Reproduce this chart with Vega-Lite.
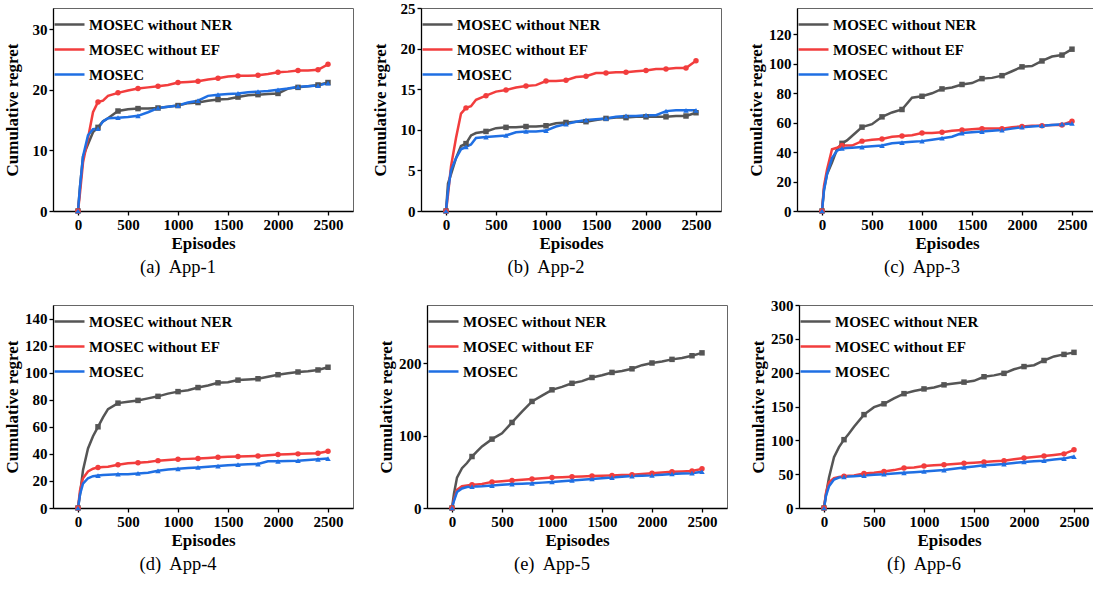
{
"$schema": "https://vega.github.io/schema/vega-lite/v6.json",
"padding": {"left": 2, "top": 0, "right": 0, "bottom": 0},
"background": "white",
"data": {"values": [
{"p":"a","x":0,"NER":0,"EF":0,"MOSEC":0},{"p":"a","x":20,"NER":4,"EF":3,"MOSEC":4},{"p":"a","x":50,"NER":9,"EF":8,"MOSEC":9},{"p":"a","x":100,"NER":11,"EF":12,"MOSEC":12.5},{"p":"a","x":150,"NER":13,"EF":16.3,"MOSEC":13.5},{"p":"a","x":200,"NER":13.8,"EF":18,"MOSEC":13.6},{"p":"a","x":250,"NER":14.8,"EF":18.2,"MOSEC":14.8},{"p":"a","x":300,"NER":15.3,"EF":19,"MOSEC":15.3},{"p":"a","x":400,"NER":16.5,"EF":19.5,"MOSEC":15.4},{"p":"a","x":500,"NER":16.8,"EF":19.9,"MOSEC":15.5},{"p":"a","x":600,"NER":16.9,"EF":20.2,"MOSEC":15.7},{"p":"a","x":700,"NER":16.9,"EF":20.4,"MOSEC":16.3},{"p":"a","x":800,"NER":17.0,"EF":20.6,"MOSEC":17.0},{"p":"a","x":900,"NER":17.2,"EF":20.8,"MOSEC":17.2},{"p":"a","x":1000,"NER":17.4,"EF":21.2,"MOSEC":17.4},{"p":"a","x":1100,"NER":17.8,"EF":21.3,"MOSEC":17.9},{"p":"a","x":1200,"NER":17.9,"EF":21.4,"MOSEC":18.2},{"p":"a","x":1300,"NER":18.2,"EF":21.7,"MOSEC":19.0},{"p":"a","x":1400,"NER":18.4,"EF":21.9,"MOSEC":19.2},{"p":"a","x":1500,"NER":18.5,"EF":22.2,"MOSEC":19.3},{"p":"a","x":1600,"NER":18.8,"EF":22.3,"MOSEC":19.4},{"p":"a","x":1700,"NER":19.1,"EF":22.3,"MOSEC":19.6},{"p":"a","x":1800,"NER":19.2,"EF":22.4,"MOSEC":19.7},{"p":"a","x":1900,"NER":19.3,"EF":22.6,"MOSEC":19.8},{"p":"a","x":2000,"NER":19.4,"EF":22.9,"MOSEC":20.0},{"p":"a","x":2100,"NER":20.2,"EF":23.0,"MOSEC":20.2},{"p":"a","x":2200,"NER":20.4,"EF":23.2,"MOSEC":20.5},{"p":"a","x":2300,"NER":20.6,"EF":23.2,"MOSEC":20.6},{"p":"a","x":2400,"NER":20.8,"EF":23.3,"MOSEC":20.7},{"p":"a","x":2500,"NER":21.2,"EF":24.2,"MOSEC":21.1},
{"p":"b","x":0,"NER":0,"EF":0,"MOSEC":0},{"p":"b","x":20,"NER":3.4,"EF":2,"MOSEC":2.5},{"p":"b","x":50,"NER":4.5,"EF":5.5,"MOSEC":5},{"p":"b","x":100,"NER":6.5,"EF":9,"MOSEC":6.5},{"p":"b","x":150,"NER":8,"EF":12,"MOSEC":7.6},{"p":"b","x":200,"NER":8.3,"EF":12.7,"MOSEC":7.9},{"p":"b","x":250,"NER":9.3,"EF":12.9,"MOSEC":8.2},{"p":"b","x":300,"NER":9.6,"EF":13.7,"MOSEC":9.0},{"p":"b","x":400,"NER":9.8,"EF":14.2,"MOSEC":9.1},{"p":"b","x":500,"NER":10.2,"EF":14.7,"MOSEC":9.2},{"p":"b","x":600,"NER":10.3,"EF":14.9,"MOSEC":9.3},{"p":"b","x":700,"NER":10.3,"EF":15.2,"MOSEC":9.7},{"p":"b","x":800,"NER":10.4,"EF":15.4,"MOSEC":9.8},{"p":"b","x":900,"NER":10.4,"EF":15.5,"MOSEC":9.8},{"p":"b","x":1000,"NER":10.5,"EF":16.0,"MOSEC":9.9},{"p":"b","x":1100,"NER":10.8,"EF":16.0,"MOSEC":10.4},{"p":"b","x":1200,"NER":10.9,"EF":16.1,"MOSEC":10.7},{"p":"b","x":1300,"NER":11.0,"EF":16.5,"MOSEC":11.0},{"p":"b","x":1400,"NER":11.0,"EF":16.6,"MOSEC":11.2},{"p":"b","x":1500,"NER":11.2,"EF":17.0,"MOSEC":11.3},{"p":"b","x":1600,"NER":11.4,"EF":17.0,"MOSEC":11.4},{"p":"b","x":1700,"NER":11.5,"EF":17.1,"MOSEC":11.6},{"p":"b","x":1800,"NER":11.5,"EF":17.1,"MOSEC":11.7},{"p":"b","x":1900,"NER":11.6,"EF":17.2,"MOSEC":11.7},{"p":"b","x":2000,"NER":11.6,"EF":17.3,"MOSEC":11.8},{"p":"b","x":2100,"NER":11.6,"EF":17.5,"MOSEC":11.8},{"p":"b","x":2200,"NER":11.6,"EF":17.5,"MOSEC":12.3},{"p":"b","x":2300,"NER":11.7,"EF":17.6,"MOSEC":12.4},{"p":"b","x":2400,"NER":11.7,"EF":17.6,"MOSEC":12.4},{"p":"b","x":2500,"NER":12.1,"EF":18.5,"MOSEC":12.4},
{"p":"c","x":0,"NER":0,"EF":0,"MOSEC":0},{"p":"c","x":20,"NER":15,"EF":17,"MOSEC":14},{"p":"c","x":50,"NER":25,"EF":28,"MOSEC":25},{"p":"c","x":100,"NER":33,"EF":42,"MOSEC":36},{"p":"c","x":150,"NER":42,"EF":43,"MOSEC":41},{"p":"c","x":200,"NER":46,"EF":44.5,"MOSEC":42.5},{"p":"c","x":250,"NER":48,"EF":44.5,"MOSEC":42.8},{"p":"c","x":300,"NER":51,"EF":44.5,"MOSEC":43},{"p":"c","x":400,"NER":57,"EF":47.5,"MOSEC":43.5},{"p":"c","x":500,"NER":59,"EF":48.5,"MOSEC":44},{"p":"c","x":600,"NER":64,"EF":49,"MOSEC":44.5},{"p":"c","x":700,"NER":67,"EF":50.5,"MOSEC":46},{"p":"c","x":800,"NER":69,"EF":51,"MOSEC":46.5},{"p":"c","x":900,"NER":77,"EF":51.5,"MOSEC":47},{"p":"c","x":1000,"NER":78,"EF":53,"MOSEC":47.5},{"p":"c","x":1100,"NER":80,"EF":53,"MOSEC":48.5},{"p":"c","x":1200,"NER":83,"EF":53.5,"MOSEC":49.5},{"p":"c","x":1300,"NER":84,"EF":54.5,"MOSEC":50.5},{"p":"c","x":1400,"NER":86,"EF":55,"MOSEC":53},{"p":"c","x":1500,"NER":87,"EF":55.5,"MOSEC":53.5},{"p":"c","x":1600,"NER":90,"EF":56,"MOSEC":54},{"p":"c","x":1700,"NER":90.5,"EF":56,"MOSEC":54.5},{"p":"c","x":1800,"NER":92,"EF":56,"MOSEC":55},{"p":"c","x":1900,"NER":95,"EF":57,"MOSEC":56},{"p":"c","x":2000,"NER":98,"EF":57.5,"MOSEC":57},{"p":"c","x":2100,"NER":98.5,"EF":58,"MOSEC":57.5},{"p":"c","x":2200,"NER":102,"EF":58,"MOSEC":58},{"p":"c","x":2300,"NER":105,"EF":58.5,"MOSEC":58.5},{"p":"c","x":2400,"NER":106,"EF":58.5,"MOSEC":59},{"p":"c","x":2500,"NER":110,"EF":61,"MOSEC":59.5},
{"p":"d","x":0,"NER":0,"EF":0,"MOSEC":0},{"p":"d","x":20,"NER":10,"EF":13,"MOSEC":10},{"p":"d","x":50,"NER":28,"EF":22,"MOSEC":18},{"p":"d","x":100,"NER":44,"EF":27,"MOSEC":22},{"p":"d","x":150,"NER":53,"EF":29,"MOSEC":23.5},{"p":"d","x":200,"NER":60,"EF":30,"MOSEC":24},{"p":"d","x":250,"NER":67,"EF":30.3,"MOSEC":24.3},{"p":"d","x":300,"NER":73,"EF":30.5,"MOSEC":24.5},{"p":"d","x":400,"NER":77.5,"EF":32,"MOSEC":25},{"p":"d","x":500,"NER":78.5,"EF":33,"MOSEC":25},{"p":"d","x":600,"NER":79.5,"EF":33.5,"MOSEC":25.5},{"p":"d","x":700,"NER":81,"EF":34,"MOSEC":26},{"p":"d","x":800,"NER":82.5,"EF":35,"MOSEC":27.5},{"p":"d","x":900,"NER":84.5,"EF":35.5,"MOSEC":28.5},{"p":"d","x":1000,"NER":86,"EF":36,"MOSEC":29},{"p":"d","x":1100,"NER":87,"EF":36.3,"MOSEC":29.5},{"p":"d","x":1200,"NER":89,"EF":36.5,"MOSEC":30},{"p":"d","x":1300,"NER":90.5,"EF":37,"MOSEC":30.5},{"p":"d","x":1400,"NER":92.5,"EF":37.5,"MOSEC":31},{"p":"d","x":1500,"NER":93,"EF":37.8,"MOSEC":31.5},{"p":"d","x":1600,"NER":94.5,"EF":38,"MOSEC":32},{"p":"d","x":1700,"NER":95,"EF":38.2,"MOSEC":32.3},{"p":"d","x":1800,"NER":95.5,"EF":38.5,"MOSEC":32.5},{"p":"d","x":1900,"NER":97,"EF":39,"MOSEC":34.5},{"p":"d","x":2000,"NER":98.5,"EF":39.5,"MOSEC":34.5},{"p":"d","x":2100,"NER":99.5,"EF":39.8,"MOSEC":34.8},{"p":"d","x":2200,"NER":100.5,"EF":40,"MOSEC":35},{"p":"d","x":2300,"NER":101,"EF":40.2,"MOSEC":35.5},{"p":"d","x":2400,"NER":102,"EF":40.5,"MOSEC":36},{"p":"d","x":2500,"NER":104,"EF":42,"MOSEC":36.5},
{"p":"e","x":0,"NER":0,"EF":0,"MOSEC":0},{"p":"e","x":20,"NER":20,"EF":12,"MOSEC":10},{"p":"e","x":50,"NER":42,"EF":25,"MOSEC":22},{"p":"e","x":100,"NER":55,"EF":30,"MOSEC":27},{"p":"e","x":150,"NER":62,"EF":31,"MOSEC":29},{"p":"e","x":200,"NER":71,"EF":32,"MOSEC":29.5},{"p":"e","x":250,"NER":78,"EF":32.5,"MOSEC":29.8},{"p":"e","x":300,"NER":85,"EF":33,"MOSEC":30},{"p":"e","x":400,"NER":95,"EF":36,"MOSEC":31},{"p":"e","x":500,"NER":103,"EF":37,"MOSEC":32},{"p":"e","x":600,"NER":118,"EF":38,"MOSEC":33},{"p":"e","x":700,"NER":133,"EF":39,"MOSEC":33.5},{"p":"e","x":800,"NER":147,"EF":40,"MOSEC":34},{"p":"e","x":900,"NER":155,"EF":41,"MOSEC":35},{"p":"e","x":1000,"NER":163,"EF":42,"MOSEC":36},{"p":"e","x":1100,"NER":167,"EF":42.5,"MOSEC":37},{"p":"e","x":1200,"NER":172,"EF":43,"MOSEC":38},{"p":"e","x":1300,"NER":175,"EF":43.5,"MOSEC":39},{"p":"e","x":1400,"NER":180,"EF":44,"MOSEC":40},{"p":"e","x":1500,"NER":183,"EF":44.5,"MOSEC":41},{"p":"e","x":1600,"NER":187,"EF":45,"MOSEC":42},{"p":"e","x":1700,"NER":189,"EF":45.5,"MOSEC":43},{"p":"e","x":1800,"NER":192,"EF":46,"MOSEC":44},{"p":"e","x":1900,"NER":197,"EF":47,"MOSEC":44.5},{"p":"e","x":2000,"NER":200,"EF":48,"MOSEC":45},{"p":"e","x":2100,"NER":202,"EF":49,"MOSEC":46},{"p":"e","x":2200,"NER":205,"EF":50,"MOSEC":47},{"p":"e","x":2300,"NER":207,"EF":50.5,"MOSEC":47.5},{"p":"e","x":2400,"NER":210,"EF":51,"MOSEC":48},{"p":"e","x":2500,"NER":214,"EF":54,"MOSEC":50},
{"p":"f","x":0,"NER":0,"EF":0,"MOSEC":0},{"p":"f","x":20,"NER":20,"EF":22,"MOSEC":18},{"p":"f","x":50,"NER":45,"EF":38,"MOSEC":32},{"p":"f","x":100,"NER":75,"EF":44,"MOSEC":42},{"p":"f","x":150,"NER":90,"EF":46,"MOSEC":45},{"p":"f","x":200,"NER":101,"EF":47,"MOSEC":46},{"p":"f","x":250,"NER":110,"EF":47.5,"MOSEC":46.5},{"p":"f","x":300,"NER":120,"EF":48,"MOSEC":47},{"p":"f","x":400,"NER":138,"EF":51,"MOSEC":48},{"p":"f","x":500,"NER":149,"EF":52,"MOSEC":49},{"p":"f","x":600,"NER":154,"EF":54,"MOSEC":50},{"p":"f","x":700,"NER":162,"EF":56,"MOSEC":51},{"p":"f","x":800,"NER":169,"EF":59,"MOSEC":52},{"p":"f","x":900,"NER":173,"EF":60,"MOSEC":53},{"p":"f","x":1000,"NER":176,"EF":62,"MOSEC":54},{"p":"f","x":1100,"NER":178,"EF":63,"MOSEC":55},{"p":"f","x":1200,"NER":182,"EF":64,"MOSEC":56},{"p":"f","x":1300,"NER":184,"EF":65,"MOSEC":58},{"p":"f","x":1400,"NER":186,"EF":66,"MOSEC":60},{"p":"f","x":1500,"NER":188,"EF":67,"MOSEC":61.5},{"p":"f","x":1600,"NER":194,"EF":68,"MOSEC":63},{"p":"f","x":1700,"NER":196,"EF":69,"MOSEC":64},{"p":"f","x":1800,"NER":199,"EF":70,"MOSEC":65},{"p":"f","x":1900,"NER":205,"EF":72,"MOSEC":66.5},{"p":"f","x":2000,"NER":209,"EF":74,"MOSEC":68},{"p":"f","x":2100,"NER":211,"EF":75.5,"MOSEC":69},{"p":"f","x":2200,"NER":218,"EF":77,"MOSEC":70},{"p":"f","x":2300,"NER":224,"EF":78.5,"MOSEC":71.5},{"p":"f","x":2400,"NER":227,"EF":80,"MOSEC":73},{"p":"f","x":2500,"NER":230,"EF":86,"MOSEC":76}
]},
"vconcat": [
 {"spacing": 24, "resolve": {"scale": {"color": "independent"}, "legend": {"color": "independent"}}, "hconcat": [
  {"spacing": 16, "resolve": {"scale": {"color": "independent"}, "legend": {"color": "independent"}}, "hconcat": [
   {"width": 300, "height": 203, "title": "(a)\u00a0 App-1",
    "transform": [{"filter": "datum.p === 'a'"}, {"fold": ["NER", "EF", "MOSEC"], "as": ["s", "y"]}],
    "encoding": {
     "x": {"field": "x", "type": "quantitative", "scale": {"domain": [-250, 2750], "nice": false, "zero": false}, "axis": {"values": [0, 500, 1000, 1500, 2000, 2500], "format": "d", "title": "Episodes"}},
     "y": {"field": "y", "type": "quantitative", "scale": {"domain": [0, 33.5], "nice": false}, "axis": {"values": [0, 10, 20, 30], "format": "d", "title": "Cumulative regret"}},
     "color": {"field": "s", "type": "nominal", "scale": {"domain": ["NER", "EF", "MOSEC"], "range": ["#555555", "#f23d3d", "#1f6fe3"]},
      "legend": {"orient": "top-left", "title": null, "offset": 0, "padding": 0, "symbolType": "stroke", "symbolSize": 900, "symbolStrokeWidth": 2.5, "labelOffset": 3, "rowPadding": -15, "labelFontWeight": "bold", "labelFontSize": 15, "labelColor": "black",
       "labelExpr": "datum.value === 'NER' ? 'MOSEC without NER' : datum.value === 'EF' ? 'MOSEC without EF' : 'MOSEC'"}}
    },
    "layer": [
     {"mark": {"type": "line", "strokeWidth": 2.5}},
     {"transform": [{"filter": "datum.x % 200 === 0 || datum.x === 2500"}], "mark": {"type": "point", "filled": true, "size": 30, "opacity": 1},
      "encoding": {"shape": {"field": "s", "type": "nominal", "scale": {"domain": ["NER", "EF", "MOSEC"], "range": ["square", "circle", "triangle-up"]}, "legend": null}}}
    ]},
   {"width": 300, "height": 203, "title": "(b)\u00a0 App-2",
    "transform": [{"filter": "datum.p === 'b'"}, {"fold": ["NER", "EF", "MOSEC"], "as": ["s", "y"]}],
    "encoding": {
     "x": {"field": "x", "type": "quantitative", "scale": {"domain": [-250, 2750], "nice": false, "zero": false}, "axis": {"values": [0, 500, 1000, 1500, 2000, 2500], "format": "d", "title": "Episodes"}},
     "y": {"field": "y", "type": "quantitative", "scale": {"domain": [0, 25], "nice": false}, "axis": {"values": [0, 5, 10, 15, 20, 25], "format": "d", "title": "Cumulative regret"}},
     "color": {"field": "s", "type": "nominal", "scale": {"domain": ["NER", "EF", "MOSEC"], "range": ["#555555", "#f23d3d", "#1f6fe3"]},
      "legend": {"orient": "top-left", "title": null, "offset": 0, "padding": 0, "symbolType": "stroke", "symbolSize": 900, "symbolStrokeWidth": 2.5, "labelOffset": 3, "rowPadding": -15, "labelFontWeight": "bold", "labelFontSize": 15, "labelColor": "black",
       "labelExpr": "datum.value === 'NER' ? 'MOSEC without NER' : datum.value === 'EF' ? 'MOSEC without EF' : 'MOSEC'"}}
    },
    "layer": [
     {"mark": {"type": "line", "strokeWidth": 2.5}},
     {"transform": [{"filter": "datum.x % 200 === 0 || datum.x === 2500"}], "mark": {"type": "point", "filled": true, "size": 30, "opacity": 1},
      "encoding": {"shape": {"field": "s", "type": "nominal", "scale": {"domain": ["NER", "EF", "MOSEC"], "range": ["square", "circle", "triangle-up"]}, "legend": null}}}
    ]}
  ]},
  {"width": 300, "height": 203, "title": "(c)\u00a0 App-3",
    "transform": [{"filter": "datum.p === 'c'"}, {"fold": ["NER", "EF", "MOSEC"], "as": ["s", "y"]}],
    "encoding": {
     "x": {"field": "x", "type": "quantitative", "scale": {"domain": [-250, 2750], "nice": false, "zero": false}, "axis": {"values": [0, 500, 1000, 1500, 2000, 2500], "format": "d", "title": "Episodes"}},
     "y": {"field": "y", "type": "quantitative", "scale": {"domain": [0, 138], "nice": false}, "axis": {"values": [0, 20, 40, 60, 80, 100, 120], "format": "d", "title": "Cumulative regret"}},
     "color": {"field": "s", "type": "nominal", "scale": {"domain": ["NER", "EF", "MOSEC"], "range": ["#555555", "#f23d3d", "#1f6fe3"]},
      "legend": {"orient": "top-left", "title": null, "offset": 0, "padding": 0, "symbolType": "stroke", "symbolSize": 900, "symbolStrokeWidth": 2.5, "labelOffset": 3, "rowPadding": -15, "labelFontWeight": "bold", "labelFontSize": 15, "labelColor": "black",
       "labelExpr": "datum.value === 'NER' ? 'MOSEC without NER' : datum.value === 'EF' ? 'MOSEC without EF' : 'MOSEC'"}}
    },
    "layer": [
     {"mark": {"type": "line", "strokeWidth": 2.5}},
     {"transform": [{"filter": "datum.x % 200 === 0 || datum.x === 2500"}], "mark": {"type": "point", "filled": true, "size": 30, "opacity": 1},
      "encoding": {"shape": {"field": "s", "type": "nominal", "scale": {"domain": ["NER", "EF", "MOSEC"], "range": ["square", "circle", "triangle-up"]}, "legend": null}}}
    ]}
 ]},
 {"spacing": 20, "resolve": {"scale": {"color": "independent"}, "legend": {"color": "independent"}}, "hconcat": [
  {"spacing": 22, "resolve": {"scale": {"color": "independent"}, "legend": {"color": "independent"}}, "hconcat": [
   {"width": 300, "height": 203, "title": "(d)\u00a0 App-4",
    "transform": [{"filter": "datum.p === 'd'"}, {"fold": ["NER", "EF", "MOSEC"], "as": ["s", "y"]}],
    "encoding": {
     "x": {"field": "x", "type": "quantitative", "scale": {"domain": [-250, 2750], "nice": false, "zero": false}, "axis": {"values": [0, 500, 1000, 1500, 2000, 2500], "format": "d", "title": "Episodes"}},
     "y": {"field": "y", "type": "quantitative", "scale": {"domain": [0, 150], "nice": false}, "axis": {"values": [0, 20, 40, 60, 80, 100, 120, 140], "format": "d", "title": "Cumulative regret"}},
     "color": {"field": "s", "type": "nominal", "scale": {"domain": ["NER", "EF", "MOSEC"], "range": ["#555555", "#f23d3d", "#1f6fe3"]},
      "legend": {"orient": "top-left", "title": null, "offset": 0, "padding": 0, "symbolType": "stroke", "symbolSize": 900, "symbolStrokeWidth": 2.5, "labelOffset": 3, "rowPadding": -15, "labelFontWeight": "bold", "labelFontSize": 15, "labelColor": "black",
       "labelExpr": "datum.value === 'NER' ? 'MOSEC without NER' : datum.value === 'EF' ? 'MOSEC without EF' : 'MOSEC'"}}
    },
    "layer": [
     {"mark": {"type": "line", "strokeWidth": 2.5}},
     {"transform": [{"filter": "datum.x % 200 === 0 || datum.x === 2500"}], "mark": {"type": "point", "filled": true, "size": 30, "opacity": 1},
      "encoding": {"shape": {"field": "s", "type": "nominal", "scale": {"domain": ["NER", "EF", "MOSEC"], "range": ["square", "circle", "triangle-up"]}, "legend": null}}}
    ]},
   {"width": 300, "height": 203, "title": "(e)\u00a0 App-5",
    "transform": [{"filter": "datum.p === 'e'"}, {"fold": ["NER", "EF", "MOSEC"], "as": ["s", "y"]}],
    "encoding": {
     "x": {"field": "x", "type": "quantitative", "scale": {"domain": [-250, 2750], "nice": false, "zero": false}, "axis": {"values": [0, 500, 1000, 1500, 2000, 2500], "format": "d", "title": "Episodes"}},
     "y": {"field": "y", "type": "quantitative", "scale": {"domain": [0, 280], "nice": false}, "axis": {"values": [0, 100, 200], "format": "d", "title": "Cumulative regret"}},
     "color": {"field": "s", "type": "nominal", "scale": {"domain": ["NER", "EF", "MOSEC"], "range": ["#555555", "#f23d3d", "#1f6fe3"]},
      "legend": {"orient": "top-left", "title": null, "offset": 0, "padding": 0, "symbolType": "stroke", "symbolSize": 900, "symbolStrokeWidth": 2.5, "labelOffset": 3, "rowPadding": -15, "labelFontWeight": "bold", "labelFontSize": 15, "labelColor": "black",
       "labelExpr": "datum.value === 'NER' ? 'MOSEC without NER' : datum.value === 'EF' ? 'MOSEC without EF' : 'MOSEC'"}}
    },
    "layer": [
     {"mark": {"type": "line", "strokeWidth": 2.5}},
     {"transform": [{"filter": "datum.x % 200 === 0 || datum.x === 2500"}], "mark": {"type": "point", "filled": true, "size": 30, "opacity": 1},
      "encoding": {"shape": {"field": "s", "type": "nominal", "scale": {"domain": ["NER", "EF", "MOSEC"], "range": ["square", "circle", "triangle-up"]}, "legend": null}}}
    ]}
  ]},
  {"width": 300, "height": 203, "title": "(f)\u00a0 App-6",
    "transform": [{"filter": "datum.p === 'f'"}, {"fold": ["NER", "EF", "MOSEC"], "as": ["s", "y"]}],
    "encoding": {
     "x": {"field": "x", "type": "quantitative", "scale": {"domain": [-250, 2750], "nice": false, "zero": false}, "axis": {"values": [0, 500, 1000, 1500, 2000, 2500], "format": "d", "title": "Episodes"}},
     "y": {"field": "y", "type": "quantitative", "scale": {"domain": [0, 300], "nice": false}, "axis": {"values": [0, 50, 100, 150, 200, 250, 300], "format": "d", "title": "Cumulative regret"}},
     "color": {"field": "s", "type": "nominal", "scale": {"domain": ["NER", "EF", "MOSEC"], "range": ["#555555", "#f23d3d", "#1f6fe3"]},
      "legend": {"orient": "top-left", "title": null, "offset": 0, "padding": 0, "symbolType": "stroke", "symbolSize": 900, "symbolStrokeWidth": 2.5, "labelOffset": 3, "rowPadding": -15, "labelFontWeight": "bold", "labelFontSize": 15, "labelColor": "black",
       "labelExpr": "datum.value === 'NER' ? 'MOSEC without NER' : datum.value === 'EF' ? 'MOSEC without EF' : 'MOSEC'"}}
    },
    "layer": [
     {"mark": {"type": "line", "strokeWidth": 2.5}},
     {"transform": [{"filter": "datum.x % 200 === 0 || datum.x === 2500"}], "mark": {"type": "point", "filled": true, "size": 30, "opacity": 1},
      "encoding": {"shape": {"field": "s", "type": "nominal", "scale": {"domain": ["NER", "EF", "MOSEC"], "range": ["square", "circle", "triangle-up"]}, "legend": null}}}
    ]}
 ]}
],
"spacing": 20,
"resolve": {"scale": {"color": "independent"}, "legend": {"color": "independent"}},
"config": {
 "font": "Liberation Serif, Times New Roman, Times, serif",
 "view": {"stroke": "#666666", "strokeWidth": 1},
 "legend": {"labelFont": "Liberation Serif, Times New Roman, Times, serif"},
 "axis": {"labelFont": "Liberation Serif, Times New Roman, Times, serif", "labelFontWeight": "bold", "labelFontSize": 15, "labelColor": "black", "titleFont": "Liberation Serif, Times New Roman, Times, serif", "titleFontWeight": "bold", "titleFontSize": 17, "titleColor": "black", "domainColor": "black", "domainWidth": 1.3, "tickColor": "black", "tickWidth": 1.3, "tickSize": 4, "grid": false, "labelPadding": 2},
 "axisX": {"titlePadding": 3, "labelFlush": false},
 "axisY": {"titlePadding": 3, "minExtent": 29, "maxExtent": 29},
 "title": {"orient": "bottom", "font": "Liberation Serif, Times New Roman, Times, serif", "fontWeight": "normal", "fontSize": 18.5, "color": "black", "offset": 7, "anchor": "middle", "frame": "bounds"}
}
}
